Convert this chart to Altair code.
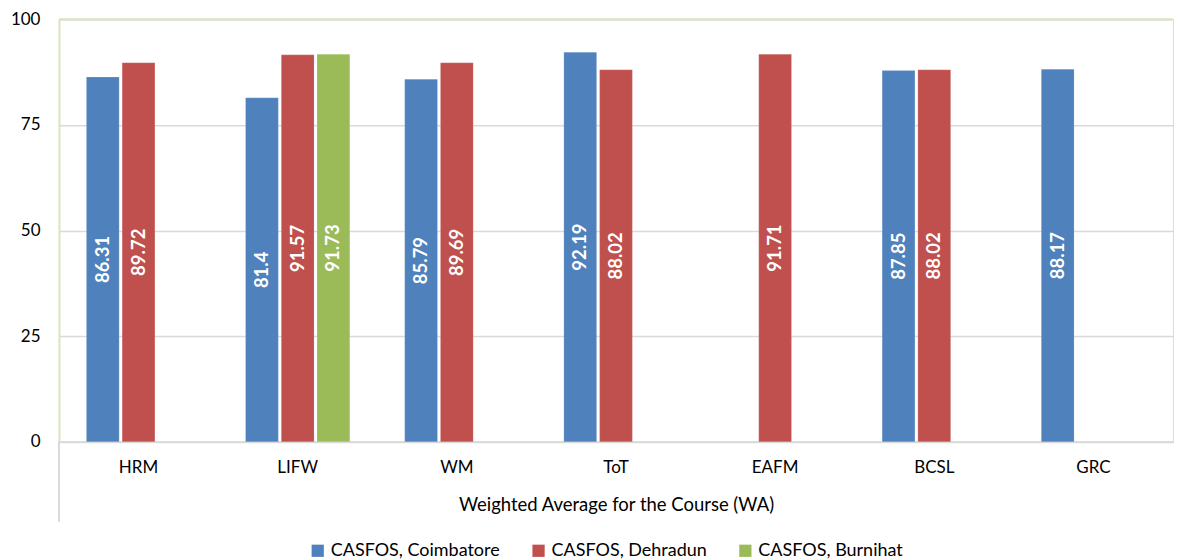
import altair as alt
import pandas as pd

courses = ["HRM", "LIFW", "WM", "ToT", "EAFM", "BCSL", "GRC"]
series = ["CASFOS, Coimbatore", "CASFOS, Dehradun", "CASFOS, Burnihat"]
colors = ["#4f81bd", "#c0504d", "#9bbb59"]

coimbatore = [86.31, 81.4, 85.79, 92.19, None, 87.85, 88.17]
dehradun = [89.72, 91.57, 89.69, 88.02, 91.71, 88.02, None]
burnihat = [None, 91.73, None, None, None, None, None]

rows = []
for s, vals in zip(series, [coimbatore, dehradun, burnihat]):
    for c, v in zip(courses, vals):
        if v is not None:
            rows.append({"course": c, "campus": s, "value": v, "label": f"{v:g}"})
df = pd.DataFrame(rows)

FONT = "Lato"
W, H = 1115, 423

x = alt.X("course:N", sort=courses, title="Weighted Average for the Course (WA)",
          scale=alt.Scale(paddingInner=0.345, paddingOuter=0.1725),
          axis=alt.Axis(labelAngle=0, labelFontSize=17, labelColor="#000000", labelFont=FONT,
                        labelPadding=18, titleFontSize=18.5, titleFont=FONT, titleFontWeight="normal",
                        titleColor="#000000", titlePadding=20, ticks=False, domainColor="#d9d9d9",
                        domainWidth=2, grid=False))
xoff = alt.XOffset("campus:N", sort=series, scale=alt.Scale(paddingInner=0.083, paddingOuter=0))

base = alt.Chart(df)

bars = base.mark_bar(stroke="#ffffff", strokeOpacity=0.3, strokeWidth=0.5).encode(
    x=x,
    xOffset=xoff,
    y=alt.Y("value:Q", title=None,
            scale=alt.Scale(domain=[0, 100], nice=False),
            axis=alt.Axis(values=[0, 25, 50, 75, 100], labelFontSize=17, labelFont=FONT,
                          labelColor="#000000", labelPadding=19, ticks=False,
                          domainColor="#d7e4bd", domainWidth=2, gridColor="#d9d9d9",
                          gridWidth=1.5)),
    color=alt.Color("campus:N", sort=series,
                    scale=alt.Scale(domain=series, range=colors),
                    legend=alt.Legend(title=None, orient="none", direction="horizontal",
                                      legendX=250, legendY=523, labelLimit=400,
                                      symbolType="square", symbolSize=150, symbolStrokeWidth=0,
                                      labelFontSize=18, labelFont=FONT, labelColor="#000000",
                                      columnPadding=29)),
)

labels = base.transform_calculate(mid="datum.value / 2").mark_text(
    angle=270, color="white", fontWeight="bold", fontSize=18.5, font=FONT,
    align="center", baseline="middle"
).encode(
    x=alt.X("course:N", sort=courses),
    xOffset=xoff,
    y=alt.Y("mid:Q"),
    text="label:N",
)

top_rule = alt.Chart(pd.DataFrame({"v": [100]})).mark_rule(color="#d7e4bd", strokeWidth=2).encode(
    y="v:Q"
)

left_ext = alt.Chart(pd.DataFrame({"v": [0]})).mark_rule(color="#d9d9d9", strokeWidth=2).encode(
    x=alt.value(0), y=alt.value(H), y2=alt.value(H + 80)
)

chart = alt.layer(bars, labels, top_rule, left_ext).properties(
    width=W, height=H, padding={"left": 2, "top": 2, "right": 0, "bottom": 2}
).configure_view(stroke=None).configure(font=FONT)

chart.save("out.html", embed_options={"renderer": "svg", "actions": False})
